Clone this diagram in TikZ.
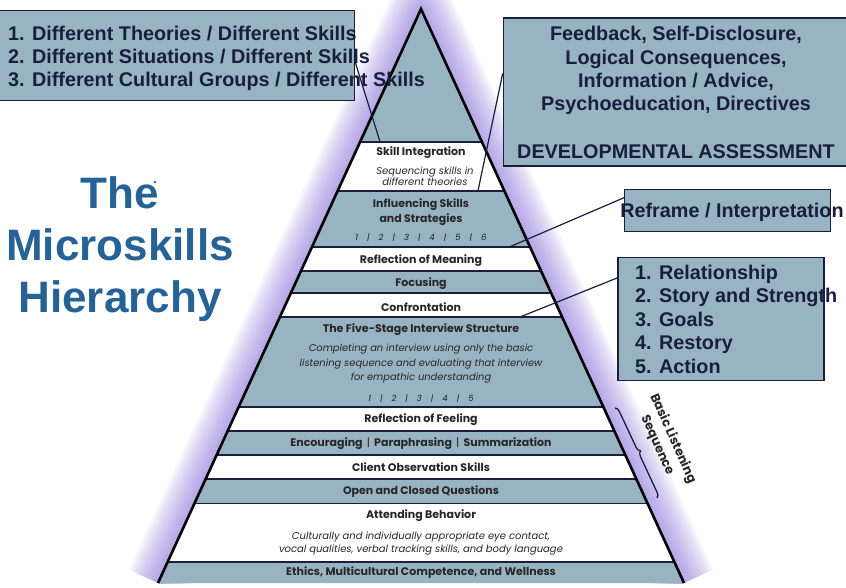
\documentclass[tikz,border=0pt]{standalone}
\usepackage{fontspec}
\setmainfont{Liberation Sans}
\newfontfamily\pyrfont{Poppins}
\usetikzlibrary{positioning,decorations.pathreplacing}

\definecolor{slate}{RGB}{152,180,194}
\definecolor{navy}{RGB}{24,30,62}
\definecolor{titleblue}{RGB}{38,98,150}
\definecolor{glow}{RGB}{120,95,210}
\newcommand\barsep{\hspace{9pt}|\hspace{9pt}}

\tikzset{
  box/.style={draw=navy,line width=1.4pt,fill=slate,anchor=north west,inner sep=0pt},
  boxtext/.style={text=navy,font=\bfseries\fontsize{19.8}{22}\selectfont,inner sep=0pt},
  band/.style={font=\pyrfont\bfseries\fontsize{11}{15}\selectfont,text=black!85,inner sep=0pt,align=center},
  sub/.style={font=\pyrfont\itshape\fontsize{9.9}{14.5}\selectfont,text=black!85,inner sep=0pt,align=center},
  nums/.style={font=\pyrfont\itshape\fontsize{8.5}{10}\selectfont,text=navy,inner sep=0pt},
  link/.style={navy,line width=1.2pt},
}

\begin{document}
\begin{tikzpicture}[x=1pt,y=-1pt]
    \useasboundingbox (0,0) rectangle (846,587);

    % glow round the pyramid
    \begin{scope}
    \clip (0,0) rectangle (846,583);
    \foreach \w in {64,58,...,4}
        \draw[glow,opacity=0.07,line width=\w pt,line join=round] (158,583) -- (421,9) -- (684,583);
    \end{scope}

    % pyramid and its bands
    \begin{scope}
    \clip (421,9) -- (158,583) -- (684,583) -- cycle;
    \fill[slate] (0,0) rectangle (846,587);
    \foreach \a/\b in {141.7/190.7, 246.7/270.7, 293.3/317, 407/430.7, 455/479, 503.5/562}
        \fill[white] (100,\a) rectangle (750,\b);
    \foreach \y in {141.7,190.7,246.7,270.7,293.3,317,407,430.7,455,479,503.5,562}
        \draw[navy,line width=1.8pt] (100,\y) -- (750,\y);
    \end{scope}
    \draw[black,line width=2.6pt] (158,583) -- (421,9) -- (684,583);

    \coordinate (siTop) at (380,141.7);
    \coordinate (siBot) at (478,190.7);
    \coordinate (infBot) at (510,246.7);
    \coordinate (fiveTop) at (520,317);

    \node[band] (si) at (421,153) {Skill Integration};
    \node[sub,font=\pyrfont\itshape\fontsize{10}{11}\selectfont] (siSub) at (425,176) {Sequencing skills in\\different theories};
    \node[band] (inf) at (421,212) {Influencing Skills\\and Strategies};
    \node[nums] (infNums) at (421,237.3) {1\barsep2\barsep3\barsep4\barsep5\barsep6};
    \node[band] (rm) at (421,260.7) {Reflection of Meaning};
    \node[band] (foc) at (421,283.3) {Focusing};
    \node[band] (conf) at (421,307.3) {Confrontation};
    \node[band] (five) at (421,330) {The Five-Stage Interview Structure};
    \node[sub] (fiveSub) at (421,363.6) {Completing an interview using only the basic\\listening sequence and evaluating that interview\\for empathic understanding};
    \node[nums] (fiveNums) at (421,398.3) {1\barsep2\barsep3\barsep4\barsep5};
    \node[band] (rf) at (421,420) {Reflection of Feeling};
    \node[band] (enc) at (421,443.3) {Encouraging {\mdseries\,|\,} Paraphrasing {\mdseries\,|\,} Summarization};
    \node[band] (cos) at (421,467.3) {Client Observation Skills};
    \node[band] (ocq) at (421,491.7) {Open and Closed Questions};
    \node[band] (ab) at (421,516) {Attending Behavior};
    \node[sub,font=\pyrfont\itshape\fontsize{10}{13.5}\selectfont] (abSub) at (421,543.5) {Culturally and individually appropriate eye contact,\\vocal qualities, verbal tracking skills, and body language};
    \node[band] (eth) at (421,573) {Ethics, Multicultural Competence, and Wellness};

    % side boxes
    \node[box,minimum width=356pt,minimum height=90pt] (theories) at (-2,10) {};
    \node[box,minimum width=345pt,minimum height=148pt] (advice) at (502.7,17.3) {};
    \node[box,minimum width=206pt,minimum height=42pt] (reframe) at (624,189) {};
    \node[box,minimum width=206pt,minimum height=123pt] (stages) at (617.3,256.7) {};

    \draw[link] ([yshift=-7pt]theories.east) -- (siTop);
    \draw[link] ([yshift=18.5pt]advice.west) -- (siBot);
    \draw[link] ([yshift=13pt]reframe.west) -- (infBot);
    \draw[link] ([yshift=41pt]stages.west) -- (fiveTop);

    \foreach \t [count=\i] in {{1. Different Theories / Different Skills},{2. Different Situations / Different Skills},{3. Different Cultural Groups / Different Skills}}
        \node[boxtext,anchor=base west] (th\i) at (8,16.7+23.3*\i) {\t};
    \foreach \t [count=\i] in {{Feedback, Self-Disclosure,},{Logical Consequences,},{Information / Advice,},{Psychoeducation, Directives}}
        \node[boxtext,anchor=base] (adv\i) at (676,17.4+23.3*\i) {\t};
    \node[boxtext,anchor=base] (devAss) at (676,158.3) {DEVELOPMENTAL ASSESSMENT};
    \node[boxtext,anchor=base] (refr) at (732,217.3) {Reframe / Interpretation};
    \foreach \t [count=\i] in {{1. Relationship},{2. Story and Strength},{3. Goals},{4. Restory},{5. Action}}
        \node[boxtext,anchor=base west] (st\i) at (635,255.8+23.5*\i) {\t};

    % basic listening sequence
    \coordinate (bTop) at (615,408);
    \coordinate (bBot) at (657,498);
    \draw[navy,line width=1.3pt,decorate,decoration={brace,amplitude=5pt}] (bTop) -- (bBot);
    \node[band,font=\pyrfont\bfseries\fontsize{12.5}{17}\selectfont,rotate=-66] (bls) at (665,442) {Basic Listening\\Sequence};

    \node[font=\bfseries\fontsize{44}{52}\selectfont,text=titleblue,align=center] (title) at (120,249) {The\\Microskills\\Hierarchy};
    \fill[titleblue] (155,182) circle (1.3);
\end{tikzpicture}
\end{document}
